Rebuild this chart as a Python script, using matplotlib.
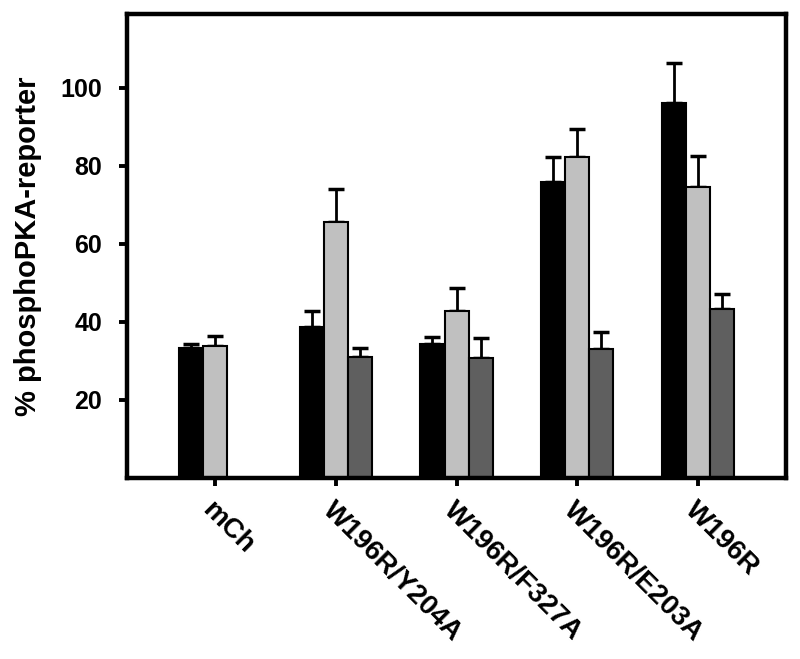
import numpy as np
import matplotlib
matplotlib.use("Agg")
import matplotlib.pyplot as plt

plt.rcParams['font.family'] = ['Liberation Sans', 'DejaVu Sans']
plt.rcParams['font.weight'] = 'bold'

# 数据
groups = ['mCh', 'W196R/Y204A', 'W196R/F327A', 'W196R/E203A', 'W196R']
black_vals = [33.3, 38.8, 34.4, 75.8, 96.2]
black_err = [1.1, 3.9, 1.8, 6.5, 10.2]
light_vals = [33.8, 65.7, 42.9, 82.3, 74.6]
light_err = [2.7, 8.4, 5.8, 7.2, 7.9]
dark_vals = [np.nan, 31.0, 30.8, 33.0, 43.2]
dark_err = [0, 2.3, 5.1, 4.5, 3.9]

x = np.arange(len(groups))
w = 0.2

fig = plt.figure(figsize=(8, 6.59), dpi=100)
ax = fig.add_axes([0.159, 0.2747, 0.8235, 0.7043])

def draw(xpos, vals, errs, color):
    vals = np.array(vals, dtype=float)
    errs = np.array(errs, dtype=float)
    ax.bar(xpos, vals, w, color=color, edgecolor='black', linewidth=1.5, zorder=2)
    ok = ~np.isnan(vals)
    # 只画向上的误差线
    ax.errorbar(xpos[ok], vals[ok], yerr=[np.zeros(ok.sum()), errs[ok]],
                fmt='none', ecolor='black', elinewidth=2, capsize=6, capthick=2.5, zorder=1)

draw(x - w, black_vals, black_err, 'black')
draw(x, light_vals, light_err, '#c0c0c0')
draw(x + w, dark_vals, dark_err, '#5f5f5f')

ax.set_xlim(-0.73, 4.73)
ax.set_ylim(0, 119)
ax.set_yticks([20, 40, 60, 80, 100])
ax.set_xticks(x)
ax.set_xticklabels(groups, rotation=-45, ha='left', va='top', rotation_mode='anchor',
                   fontsize=20, fontweight='bold')
ax.tick_params(axis='y', labelsize=18, width=2.8, length=6, pad=12)
ax.tick_params(axis='x', width=2.8, length=5.5, pad=8)
for lab in ax.get_yticklabels():
    lab.set_fontweight('bold')
for s in ax.spines.values():
    s.set_linewidth(3.2)
ax.set_ylabel('% phosphoPKA-reporter', fontsize=21, fontweight='bold', labelpad=13)

fig.savefig('out.png', dpi=100)
